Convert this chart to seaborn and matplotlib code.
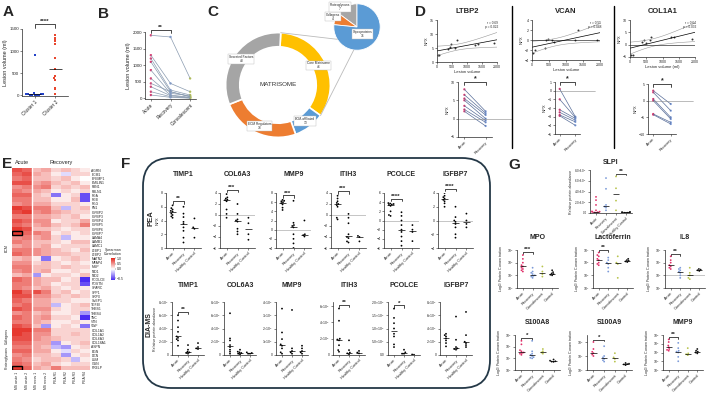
import warnings
import numpy as np
import pandas as pd
import matplotlib
matplotlib.use("Agg")
import matplotlib.pyplot as plt
import seaborn as sns
from matplotlib.patches import FancyBboxPatch, Rectangle, ConnectionPatch
from matplotlib.colors import LinearSegmentedColormap, TwoSlopeNorm
from matplotlib.ticker import FuncFormatter

warnings.filterwarnings("ignore")

W, H = 714, 400

# ---------------- data ----------------
# A: lesion volume per cluster
a_cluster1 = [920, 45, 35, 28, 20, 15, 12, 10, 8, 5, 3]
a_cluster2 = [1360, 1300, 1240, 1150, 840, 600, 440, 380, 350, 150, 30]

# B: lesion volume per patient at three time points
b_acute = [1900, 1300, 1200, 1100, 850, 600, 450, 350, 200, 100]
b_recovery = [1850, 450, 250, 200, 150, 100, 200, 80, 50, 30]
b_conv = [600, 200, 100, 50, 80, 30, 50, 20, 10, 5]

# C: matrisome composition
c_labels = ["Core Matrisome", "ECM-affiliated", "ECM Regulators", "Secreted Factors"]
c_counts = [46, 13, 33, 43]
core_labels = ["Proteoglycans", "Collagens", "Glycoproteins"]
core_counts = [7, 4, 36]

# D: correlation with lesion volume + paired acute / recovery NPX
d_genes = ["LTBP2", "VCAN", "COL1A1"]
d_stats = ["r = 0.69\np = 0.022", "r = 0.55\np = 0.048", "r = 0.64\np = 0.032"]
d_vol = [30, 80, 380, 420, 480, 600, 650, 1250, 1350, 1900]
d_npx = {
    "LTBP2": [2.5, 2.4, 4.5, 5.5, 6.5, 5.0, 8.0, 6.0, 6.5, 6.8],
    "VCAN": [-2.5, -2.0, -1.5, 0.0, 0.3, 0.0, -0.3, 0.0, 2.0, 0.0],
    "COL1A1": [-4.0, -4.2, 1.0, 2.0, 0.5, 2.0, 3.0, 3.0, 3.0, 2.5],
}
d_acute = {
    "LTBP2": [8.0, 6.5, 5.5, 5.0, 3.5, 2.5, 2.0],
    "VCAN": [0.2, -1.0, -2.2, -2.5, -2.8, -2.9],
    "COL1A1": [3.0, 2.5, 0.5, 0.0, -4.0, -4.2],
}
d_recov = {
    "LTBP2": [2.0, 1.5, 1.0, 0.0, -0.5, -1.0, -2.0],
    "VCAN": [-3.0, -3.1, -3.2, -3.4, -3.6, -4.0],
    "COL1A1": [-1.0, -3.0, -5.0, -5.5, -6.5, -7.0],
}

# E: Spearman correlation heatmap
e_genes = ["AGRN", "ECM1", "EFEMP1", "EMILIN1", "FBN1", "FBLN1", "FGA", "FGB", "FGG", "FN1",
           "IGFBP2", "IGFBP3", "IGFBP4", "IGFBP5", "IGFBP6", "IGFBP7", "LAMA4", "LAMB1", "LAMC1",
           "LTBP1", "LTBP2", "MATN2", "MFAP4", "MGP", "NID1", "NID2", "PCOLCE", "POSTN", "SPARC",
           "SPP1", "SRPX", "SVEP1", "TGFBI", "THBS1", "THBS4", "TNC", "VTN", "VWF",
           "COL1A1", "COL1A2", "COL6A3", "COL18A1",
           "ASPN", "BGN", "DCN", "LUM", "OGN", "PRELP"]
e_columns = ["MS acute 1", "MS acute 2", "MS recov 1", "MS recov 2",
             "PEA R1", "PEA R2", "PEA R3", "PEA R4"]
e_values = [
    [.8, .7, .3, .4, .2, .3, .2, .1], [.7, .8, .4, .3, .1, -.1, .2, .2],
    [.6, .7, .3, .3, .2, .3, .1, .0], [.8, .8, .4, .5, .3, .2, .3, .1],
    [.5, .6, .5, .6, .2, .3, .2, .3], [.6, .5, .4, .3, .1, .2, .1, .2],
    [.7, .7, .3, .2, -.4, .1, .2, -.5], [.6, .6, .3, .3, .1, .1, .3, -.5],
    [.5, .6, .4, .4, .2, .2, .2, .1], [.9, .8, .6, .6, .3, -.2, .2, .3],
    [.8, .9, .5, .6, .4, .3, .2, .2], [.6, .6, .4, .4, .3, .2, .3, .1],
    [.8, .7, .5, .5, .1, .2, .2, .4], [.7, .6, .4, .5, .3, .2, .3, .6],
    [.9, .8, .3, .3, .2, .1, .2, .2], [.9, .7, .6, .5, .1, .2, .1, .2],
    [.5, .6, .4, .5, .2, -.2, .1, .1], [.6, .5, .3, .3, .2, .1, .3, .3],
    [.4, .5, .3, .4, .1, .2, .2, .2], [.6, .6, .5, .4, .3, .2, .1, .3],
    [.7, .6, .5, .4, .3, .3, .2, .2], [.3, .4, .1, -.4, .1, .2, .3, .2],
    [.5, .5, .2, .3, .2, .1, .2, .1], [.6, .6, .3, .3, .2, .3, .2, .2],
    [.5, .6, .3, .4, .1, .1, .2, .1], [.3, .4, -.3, .1, .2, .2, .1, .3],
    [.7, .6, .4, .3, .3, .1, .2, -.6], [.6, .6, .4, .3, .1, .2, .2, -.5],
    [.6, .5, .3, .4, .2, .1, .2, .1], [.9, .7, .8, .6, .2, .3, .1, .2],
    [.8, .8, .5, .5, .3, .2, .3, .2], [.7, .6, .4, .4, .2, .2, .1, .1],
    [.6, .7, .4, .4, -.2, .1, .2, .3], [.8, .7, .5, .5, .2, .1, .2, .2],
    [.5, .6, .3, .4, .1, .1, .2, -.3], [.7, .6, .4, .5, .2, .2, .1, -.6],
    [.6, .6, .4, .3, .1, .1, .2, .1], [.8, .7, .3, -.3, .1, .2, .1, -.4],
    [.9, .9, .6, .6, .2, .2, .2, .2], [.9, .8, .5, .5, .2, .2, .3, .2],
    [.8, .8, .5, .4, .3, .2, .2, .2], [.7, .7, .4, .4, -.3, .1, .2, .3],
    [.6, .6, .4, .3, -.2, -.3, .1, .2], [.7, .7, .4, .4, .1, -.1, .2, .1],
    [.5, .6, .3, .3, .2, -.3, .1, .2], [.6, .5, .2, .3, .3, .2, -.2, .1],
    [.7, .6, .3, .4, .2, .1, .2, .2], [.9, .7, .4, .3, .6, .3, .3, .3],
]

# F: PEA (NPX) and DIA-MS (relative abundance)
f_groups = ["Acute", "Recovery", "Healthy Control"]
f_proteins = ["TIMP1", "COL6A3", "MMP9", "ITIH3", "PCOLCE", "IGFBP7"]
f_pea = {
    "TIMP1": ([6.2, 5.8, 5.6, 5.4, 5.3, 5.0, 4.8, 4.6, 4.4], [6.0, 5.0, 4.5, 3.8, 3.5, 3.0, 2.5, 1.5, 0.8], [4.3, 3.0, 2.8, 1.5]),
    "COL6A3": ([3.8, 3.2, 3.0, 2.8, 2.7, 2.5, 1.0, 0.2, -0.5], [2.0, 0.2, -0.8, -1.0, -1.2, -2.5, -3.0, -3.5], [-0.5, -1.5, -3.5, -4.5]),
    "MMP9": ([6.5, 6.3, 6.2, 6.0, 5.8, 5.5, 4.8, 4.3], [6.3, 1.5, 1.0, 0.8, 0.5, -1.0, -2.0, -3.0, -4.0], [2.0, -1.0, -1.2, -1.5]),
    "ITIH3": ([3.5, 3.0, 2.5, 2.2, 2.0, 1.8, 1.5, -0.5, -0.8], [0.2, -0.5, -1.5, -3.5, -4.0, -4.2, -4.8, -5.0], [-3.8, -4.0, -4.8]),
    "PCOLCE": ([3.8, 3.7, 3.6, 3.5, 3.4, 3.2, 2.0, 1.2, 1.0], [1.8, 1.0, 0.0, -1.0, -2.0, -2.5, -3.5, -4.5, -5.5], [-1.0, -2.0, -2.5, -4.5]),
    "IGFBP7": ([4.0, 3.6, 3.4, 3.2, 3.0, 2.8, 2.5, 2.0], [2.0, 0.5, 0.0, -0.2, -0.5, -1.0, -2.0, -2.5], [1.0, 0.0, -0.5, -1.0]),
}
f_pea_sig = {"TIMP1": "**", "COL6A3": "***", "MMP9": "***", "ITIH3": "***", "PCOLCE": "****", "IGFBP7": "****"}
f_pea_lim = {"TIMP1": (0, 8), "COL6A3": (-6, 4), "MMP9": (-4, 8), "ITIH3": (-6, 4), "PCOLCE": (-6, 6), "IGFBP7": (-4, 4)}
f_dia = {
    "TIMP1": ([6.0e5, 5.2e5, 4.2e5, 3.5e5, 2.8e5, 2.6e5, 2.4e5, 2.2e5, 1.4e5], [1.5e5, 0.8e5, 0.5e5, 0.4e5, 0.3e5, 0.2e5], [1.8e5, 1.2e5, 1.0e5, 0.9e5]),
    "COL6A3": ([6.3e6, 2.5e6, 2.2e6, 1.5e6, 1.2e6, 0.8e6, 0.5e6, 0.2e6], [0.8e6, 0.5e6, 0.4e6, 0.3e6, 0.2e6, 0.1e6], [0.4e6, 0.3e6, 0.2e6, 0.2e6]),
    "MMP9": ([3.5e6, 1.7e6, 1.2e6, 0.8e6, 0.7e6, 0.5e6, 0.2e6, 0.1e6], [3.4e6, 0.5e6, 0.3e6, 0.2e6, 0.1e6], [0.7e6, 0.5e6, 0.3e6, 0.2e6, 0.1e6]),
    "ITIH3": ([5.7e6, 4.2e6, 2.0e6, 1.9e6, 1.8e6, 1.2e6, 0.6e6, 0.4e6], [1.8e6, 0.6e6, 0.3e6, 0.2e6, 0.1e6], [0.5e6, 0.3e6, 0.2e6]),
    "PCOLCE": ([1.75e6, 1.4e6, 1.2e6, 1.0e6, 0.8e6, 0.7e6, 0.4e6, 0.3e6], [0.2e6, 0.1e6, 0.05e6, 0.05e6], [0.02e6, 0.01e6]),
    "IGFBP7": ([3.2e6, 3.0e6, 2.8e6, 2.5e6, 2.2e6, 1.8e6, 1.3e6], [5.8e6, 2.3e6, 1.2e6, 1.0e6, 0.9e6, 0.8e6], [6.5e6, 3.0e6, 2.0e6, 1.8e6, 1.5e6, 1.2e6]),
}
f_dia_sig = {"TIMP1": "**", "ITIH3": "**", "PCOLCE": "*"}
f_dia_lim = {"TIMP1": (0, 8e5), "COL6A3": (0, 8e6), "MMP9": (0, 4e6), "ITIH3": (0, 6.5e6), "PCOLCE": (0, 2e6), "IGFBP7": (0, 8e6)}
f_dia_step = {"TIMP1": 2e5, "COL6A3": 2e6, "MMP9": 1e6, "ITIH3": 2e6, "PCOLCE": 5e5, "IGFBP7": 2e6}

# G: neutrophil proteins
g_groups = ["Acute", "Recovery", "Convalescent", "Control"]
g_slpi = ([3.0, 2.4, 1.5, 0.5, 0.3, 0.25, 0.2, 0.15, 0.1, 0.05], [6.5, 4.5, 1.5, 1.2, 1.0, 0.5],
          [6.8, 4.6, 2.3, 0.5], [0.2, 0.15, 0.1, 0.1, 0.05, 0.05, 0.02])
g_log = {
    "MPO": ([5.6, 5.3, 5.0, 4.8, 4.7, 4.6, 4.5, 4.4, 4.3], [4.6, 4.3, 4.2, 4.1, 4.0, 3.95, 3.9, 3.8],
            [4.7, 4.3, 4.1, 3.9], [4.4, 4.25, 4.15, 4.1, 4.05, 4.0]),
    "Lactoferrin": ([6.8, 6.6, 6.5, 6.3, 6.2, 6.0, 5.9, 5.8], [6.4, 6.2, 6.0, 5.9, 5.6, 5.3],
                    [6.5, 6.0, 5.9, 4.8], [6.3, 6.2, 6.15, 6.1, 6.05]),
    "IL8": ([3.5, 3.2, 3.0, 2.8, 2.7, 2.6, 2.5], [2.6, 2.5, 2.4, 2.3, 2.2, 2.0, 1.8],
            [2.6, 2.2, 2.0, 1.8, 1.7], [2.5, 2.45, 2.4, 2.35]),
    "S100A8": ([5.5, 5.2, 4.7, 4.6, 4.5, 4.45, 4.4, 4.3], [5.5, 4.6, 4.4, 4.3, 4.2, 4.1, 4.05, 4.0],
               [4.8, 4.6, 4.5, 4.4], [3.9, 3.8, 3.75, 3.7, 3.72]),
    "S100A9": ([5.0, 4.5, 4.3, 4.2, 4.1, 4.0], [4.7, 4.0, 3.9, 3.8, 3.7, 3.6],
               [4.2, 3.9, 3.8, 3.6], [3.5, 3.45, 3.4, 3.35, 3.42]),
    "MMP9": ([5.5, 5.2, 4.8, 4.6, 4.4, 4.3, 4.2], [5.1, 4.5, 4.2, 4.1, 4.0, 3.5, 3.0],
             [4.5, 3.9, 3.8, 3.7], [4.4, 4.2, 4.1, 4.0, 3.9]),
}
g_sig = {"MPO": "***", "Lactoferrin": "**", "IL8": "**", "S100A8": "*", "S100A9": "*", "MMP9": "**"}
g_lim = {"MPO": (3, 6), "Lactoferrin": (4, 7), "IL8": (1, 4), "S100A8": (3, 6), "S100A9": (3, 5.5), "MMP9": (2, 6)}

# ---------------- styling ----------------
sns.set_theme(style="ticks")
plt.rcParams["font.family"] = ["Liberation Sans", "DejaVu Sans"]
plt.rcParams["axes.facecolor"] = "none"
plt.rcParams["mathtext.default"] = "regular"

RED, BLUE, OLIVE = "#e0306a", "#7b9ad8", "#b8c44c"

fig = plt.figure(figsize=(W / 100, H / 100), dpi=100)


def box(x0, y0, x1, y1):
    return fig.add_axes([x0 / W, 1 - y1 / H, (x1 - x0) / W, (y1 - y0) / H])


def tidy(ax, ls=3.0):
    ax.tick_params(labelsize=ls, length=1.5, width=0.4, pad=0.8)
    sns.despine(ax=ax)
    for s in ["left", "bottom"]:
        ax.spines[s].set_linewidth(0.5)
    ax.set_xlabel("")
    ax.set_ylabel("")


def xlabels(ax, labels, ls=3.0):
    ax.set_xticks(range(len(labels)))
    ax.set_xticklabels(labels, rotation=45, ha="right", rotation_mode="anchor", fontsize=ls)


def bracket(ax, i, j, y, h, text, fs=4.5):
    ax.plot([i, i, j, j], [y - h, y, y, y - h], color="black", lw=0.5, clip_on=False)
    ax.text((i + j) / 2, y, text, ha="center", va="bottom", fontsize=fs, fontweight="bold")


def dots(ax, groups, values, palette, size=1.5, marker="o"):
    df = pd.DataFrame({"group": np.repeat(groups, [len(v) for v in values]),
                       "value": np.concatenate(values)})
    sns.swarmplot(data=df, x="group", y="value", hue="group", order=groups, hue_order=groups,
                  palette=palette, size=size, marker=marker, linewidth=0, legend=False, ax=ax)
    for i, v in enumerate(values):
        ax.hlines(np.median(v), i - 0.3, i + 0.3, color="black", lw=0.5, zorder=5)
    ax.set_xlim(-0.6, len(groups) - 0.4)


def sci(dec=False):
    def f(v, pos):
        if v == 0:
            return "0.0" if dec else "0"
        e = int(np.floor(np.log10(abs(v)) + 1e-9))
        m = v / 10 ** e
        ms = f"{m:.1f}" if dec else f"{m:.0f}"
        return rf"${ms}{{\times}}10^{{{e}}}$"
    return FuncFormatter(f)


# ---------------- A ----------------
ax = box(22, 29, 68, 96)
dots(ax, ["Cluster 1", "Cluster 2"], [a_cluster1, a_cluster2], ["#2342c8", "#e8462e"], size=1.5, marker="s")
ax.set_ylim(-20, 1500)
ax.set_yticks([0, 500, 1000, 1500])
tidy(ax, 3.2)
xlabels(ax, ["Cluster 1", "Cluster 2"], 3.4)
ax.set_ylabel("Lesion volume (ml)", fontsize=4, labelpad=1)
bracket(ax, 0, 1, max(a_cluster2) + 260, 90, "****")

# ---------------- B ----------------
ax = box(145, 32, 196, 99)
n = len(b_acute)
dfb = pd.DataFrame({"pid": np.tile(range(n), 3), "tp": np.repeat([0, 1, 2], n),
                    "vol": b_acute + b_recovery + b_conv})
sns.lineplot(data=dfb, x="tp", y="vol", units="pid", estimator=None, color="#8a9bb0", lw=0.5, ax=ax, legend=False)
sns.scatterplot(data=dfb, x="tp", y="vol", hue="tp", palette=[RED, BLUE, OLIVE], s=3, linewidth=0, ax=ax, legend=False)
ax.set_xlim(-0.3, 2.3)
ax.set_ylim(-20, 2000)
ax.set_yticks([0, 500, 1000, 1500, 2000])
tidy(ax, 3.2)
xlabels(ax, ["Acute", "Recovery", "Convalescent"], 3.4)
ax.set_ylabel("Lesion volume (ml)", fontsize=4, labelpad=1)
bracket(ax, 0, 1, max(b_acute) + 150, 80, "**")

# ---------------- C ----------------
office = {"yellow": "#ffc000", "blue": "#5b9bd5", "orange": "#ed7d31", "gray": "#a5a5a5"}
axd = box(223, 30, 333, 140)
wedges, _ = axd.pie(c_counts, colors=[office["yellow"], office["blue"], office["orange"], office["gray"]],
                    startangle=87, counterclock=False, radius=1.0,
                    wedgeprops=dict(width=0.27, edgecolor="white", linewidth=1.2))
axd.set_xlim(-1.05, 1.05)
axd.set_ylim(-1.05, 1.05)
axd.set_aspect("equal")
axd.text(0, 0, "MATRISOME", ha="center", va="center", fontsize=4.5, color="#333333")
for w, lab, cnt in zip(wedges, c_labels, c_counts):
    ang = np.deg2rad((w.theta1 + w.theta2) / 2)
    axd.text(0.86 * np.cos(ang), 0.86 * np.sin(ang), f"{lab}\n{cnt}", ha="center", va="center",
             fontsize=2.3, linespacing=1.0,
             bbox=dict(boxstyle="square,pad=0.25", fc="white", ec="#bbbbbb", lw=0.3))

axp = box(328, -2, 386, 56)
pw, _ = axp.pie(core_counts, colors=[office["gray"], office["orange"], office["blue"]], startangle=90,
                counterclock=True, wedgeprops=dict(edgecolor="white", linewidth=0.6))
axp.set_aspect("equal")
label_kw = dict(ha="center", va="center", fontsize=2.3, linespacing=1.0,
                bbox=dict(boxstyle="square,pad=0.25", fc="white", ec="#bbbbbb", lw=0.3))
axp.text(0.25, -0.3, f"{core_labels[2]}\n{core_counts[2]}", **label_kw)
axp.text(-1.05, 0.45, f"{core_labels[1]}\n{core_counts[1]}", **label_kw)
axp.text(-0.75, 0.85, f"{core_labels[0]}\n{core_counts[0]}", **label_kw)
yw = wedges[0]
for ta, tb in [(max(yw.theta1, yw.theta2), 212), (min(yw.theta1, yw.theta2), 262)]:
    a1, a2 = np.deg2rad(ta), np.deg2rad(tb)
    con = ConnectionPatch(xyA=(np.cos(a1), np.sin(a1)), coordsA=axd.transData,
                          xyB=(np.cos(a2), np.sin(a2)), coordsB=axp.transData,
                          color="#bbbbbb", lw=0.6)
    fig.add_artist(con)

# ---------------- D ----------------
d_top = {"LTBP2": (437, 20, 497, 62), "VCAN": (532, 20, 600, 60), "COL1A1": (630, 20, 695, 57)}
d_bot = {"LTBP2": (458, 82, 492, 137), "VCAN": (555, 82, 580, 134), "COL1A1": (648, 84, 676, 134)}
d_toplim = {"LTBP2": (0, 15, 5), "VCAN": (-4, 4, 2), "COL1A1": (-5, 10, 5)}
d_botlim = {"LTBP2": (-5, 10, 5), "VCAN": (-5, 1, 1), "COL1A1": (-10, 5, 5)}
vol = np.array(d_vol, dtype=float)
for gene, stat in zip(d_genes, d_stats):
    ax = box(*d_top[gene])
    lo, hi, st = d_toplim[gene]
    ax.set_xlim(0, 2000)
    ax.set_ylim(lo, hi)
    y = np.array(d_npx[gene])
    sns.regplot(x=vol, y=y, ci=None, truncate=False, ax=ax,
                scatter_kws=dict(s=2, color="black", linewidths=0),
                line_kws=dict(lw=0.5, color="black"))
    xs = np.linspace(0, 2000, 50)
    b1, b0 = np.polyfit(vol, y, 1)
    resid = y - (b1 * vol + b0)
    s = np.sqrt(np.sum(resid ** 2) / (len(y) - 2))
    se = s * np.sqrt(1 / len(y) + (xs - vol.mean()) ** 2 / np.sum((vol - vol.mean()) ** 2))
    ax.plot(xs, b1 * xs + b0 + 2.3 * se, color="#999999", lw=0.4)
    ax.plot(xs, b1 * xs + b0 - 2.3 * se, color="#999999", lw=0.4)
    if lo < 0:
        ax.axhline(0, color="black", lw=0.4)
    ax.set_xticks([0, 500, 1000, 1500, 2000])
    ax.set_yticks(np.arange(lo, hi + 0.1, st))
    tidy(ax, 2.6)
    ax.set_xlabel("Lesion volume" if gene != "COL1A1" else "Lesion volume (ml)", fontsize=3, labelpad=0.5)
    ax.set_ylabel("NPX", fontsize=3, labelpad=1)
    ax.set_title(gene, fontsize=5.5, fontweight="bold", pad=5)
    ax.text(1.02, 0.98, stat, transform=ax.transAxes, fontsize=2.3, ha="right", va="top", linespacing=1.0)

    ax = box(*d_bot[gene])
    pre, post = d_acute[gene], d_recov[gene]
    m = len(pre)
    dfp = pd.DataFrame({"pid": np.tile(range(m), 2), "tp": np.repeat([0, 1], m), "val": pre + post})
    sns.lineplot(data=dfp, x="tp", y="val", units="pid", estimator=None, color="#5a6f9a", lw=0.5,
                 ax=ax, legend=False)
    sns.scatterplot(data=dfp, x="tp", y="val", hue="tp", palette=[RED, BLUE], s=2.5, linewidth=0,
                    ax=ax, legend=False)
    lo, hi, st = d_botlim[gene]
    ax.set_ylim(lo, hi)
    ax.set_yticks(np.arange(lo, hi + 0.1, st))
    ax.set_xlim(-0.3, 1.3)
    ax.axhline(0, color="#888888", lw=0.4, xmax=1.6, clip_on=False)
    tidy(ax, 2.6)
    xlabels(ax, ["Acute", "Recovery"], 2.8)
    ax.set_ylabel("NPX", fontsize=3, labelpad=1)
    bracket(ax, 0, 1, hi, (hi - lo) * 0.06, "*", 5)

# ---------------- E ----------------
hm = pd.DataFrame(e_values, index=e_genes, columns=e_columns)
cmap = LinearSegmentedColormap.from_list("spearman", ["#4b2cf2", "#ffffff", "#e3241b"])
axe = box(12, 168, 90, 370)
cax = box(111, 258, 115, 280)
sns.heatmap(hm, cmap=cmap, norm=TwoSlopeNorm(vmin=-0.6, vcenter=0, vmax=1), ax=axe, cbar_ax=cax,
            xticklabels=True, yticklabels=True)
axe.axvline(2, color="white", lw=1.0)
axe.yaxis.tick_right()
axe.tick_params(axis="y", labelsize=2.4, length=0, pad=1, labelrotation=0)
axe.tick_params(axis="x", labelsize=2.4, length=0, pad=1, labelrotation=90)
axe.set_xlabel("")
axe.set_ylabel("")
axe.add_patch(Rectangle((0, e_genes.index("IGFBP7")), 1, 1, fill=False, ec="black", lw=1.0))
axe.add_patch(Rectangle((0, len(e_genes) - 1), 1, 1, fill=False, ec="black", lw=1.0))
axe.text(1, -0.6, "Acute", ha="center", va="bottom", fontsize=4)
axe.text(5, -0.6, "Recovery", ha="center", va="bottom", fontsize=4)
for name, first, last in [("ECM", 0, 37), ("Collagens", 38, 41), ("Proteoglycans", 42, 47)]:
    axe.text(-0.35, (first + last + 1) / 2, name, rotation=90, ha="right", va="center", fontsize=2.6)
cax.set_yticks([-0.5, 0, 0.5, 1])
cax.tick_params(labelsize=2.5, length=1, width=0.3, pad=0.5)
cax.set_title("Spearman\nCorrelation", fontsize=2.6, pad=2, linespacing=1.0)

# ---------------- F ----------------
pea_x = [166, 220, 276, 331, 384, 438]
dia_x = [172, 224, 276, 333, 388, 440]
for k, prot in enumerate(f_proteins):
    ax = box(pea_x[k], 193, pea_x[k] + 35, 248)
    dots(ax, f_groups, f_pea[prot], ["black"] * 3, size=1.3)
    lo, hi = f_pea_lim[prot]
    ax.set_ylim(lo, hi)
    ax.set_yticks(np.arange(lo, hi + 0.1, 2))
    if lo < 0:
        ax.axhline(0, color="#999999", lw=0.4, zorder=0)
    tidy(ax, 2.6)
    xlabels(ax, f_groups, 2.8)
    ax.set_title(prot, fontsize=5, fontweight="bold", pad=12)
    top = max(f_pea[prot][0]) + (hi - lo) * 0.08
    bracket(ax, 0, 1, top, (hi - lo) * 0.05, f_pea_sig[prot], 4.5)
    if k == 0:
        ax.set_ylabel("NPX", fontsize=3, labelpad=1)

    ax = box(dia_x[k], 302, dia_x[k] + 32, 355)
    dots(ax, f_groups, f_dia[prot], ["black"] * 3, size=1.3)
    lo, hi = f_dia_lim[prot]
    ax.set_ylim(lo, hi)
    ax.set_yticks(np.arange(lo, hi * 1.001, f_dia_step[prot]))
    ax.yaxis.set_major_formatter(sci(dec=(prot == "PCOLCE")))
    tidy(ax, 2.4)
    xlabels(ax, f_groups, 2.8)
    ax.set_title(prot, fontsize=5, fontweight="bold", pad=11)
    if prot in f_dia_sig:
        top = max(f_dia[prot][0]) + (hi - lo) * 0.06
        bracket(ax, 0, 1, top, (hi - lo) * 0.04, f_dia_sig[prot], 4.5)
    if k == 0:
        ax.set_ylabel("Relative protein abundance", fontsize=2.6, labelpad=0.5)

# ---------------- G ----------------
pal = [RED, BLUE, OLIVE, "#111111"]
ax = box(590, 170, 632, 213)
dots(ax, ["Acute", "Recovery", "Convalescent", "Healthy Control"], [np.array(v) * 1e6 for v in g_slpi], pal, size=1.3)
ax.set_ylim(0, 8e6)
ax.set_yticks([0, 2e6, 4e6, 6e6, 8e6])
ax.yaxis.set_major_formatter(sci(dec=True))
tidy(ax, 2.2)
xlabels(ax, ["Acute", "Recovery", "Convalescent", "Healthy Control"], 2.6)
ax.set_ylabel("Relative protein abundance", fontsize=2.6, labelpad=1)
ax.set_title("SLPI", fontsize=5, fontweight="bold", pad=4)
bracket(ax, 2, 3, max(g_slpi[2]) * 1e6 + 0.5e6, 0.3e6, "**", 4.5)

g_boxes = {"MPO": (517, 250, 558, 288), "Lactoferrin": (593, 250, 633, 288), "IL8": (665, 250, 705, 288),
           "S100A8": (515, 335, 560, 370), "S100A9": (587, 335, 632, 370), "MMP9": (663, 335, 703, 370)}
for prot, bx in g_boxes.items():
    ax = box(*bx)
    dots(ax, g_groups, g_log[prot], pal, size=1.3)
    lo, hi = g_lim[prot]
    ax.set_ylim(lo, hi)
    ax.set_yticks(np.arange(np.ceil(lo), hi + 0.01, 1))
    ax.yaxis.set_major_formatter(FuncFormatter(lambda v, p: rf"$10^{{{int(v)}}}$"))
    if prot == "IL8":
        ax.axhline(2, color="#999999", lw=0.4, zorder=0)
    tidy(ax, 2.4)
    xlabels(ax, g_groups, 2.8)
    ax.set_ylabel(r"Log$_{10}$ Protein Concentration", fontsize=2.6, labelpad=1)
    ax.set_title(prot, fontsize=5, fontweight="bold", pad=8)
    top = max(g_log[prot][0]) + (hi - lo) * 0.07
    bracket(ax, 0, 1, top, (hi - lo) * 0.05, g_sig[prot], 4.5)

# ---------------- overlay: letters, frame, separators ----------------
ov = fig.add_axes([0, 0, 1, 1], zorder=10)
ov.set_xlim(0, W)
ov.set_ylim(H, 0)
ov.axis("off")
for letter, x, y in [("A", 3, 12), ("B", 98, 14), ("C", 207, 12), ("D", 415, 12),
                     ("E", 2, 164), ("F", 121, 164), ("G", 508, 165)]:
    ov.text(x, y, letter, fontsize=11, fontweight="bold", ha="left", va="center")
ov.add_patch(FancyBboxPatch((143, 158), 347, 230, boxstyle="round,pad=0,rounding_size=28",
                            fill=False, ec="#243847", lw=1.3))
ov.text(151, 218, "PEA", rotation=90, ha="center", va="center", fontsize=5.5, fontweight="bold")
ov.text(149, 325, "DIA-MS", rotation=90, ha="center", va="center", fontsize=5, fontweight="bold")
ov.plot([512, 512], [6, 148], color="black", lw=1.0)
ov.plot([614, 614], [6, 148], color="black", lw=1.0)

fig.savefig("out.png", dpi=100)
